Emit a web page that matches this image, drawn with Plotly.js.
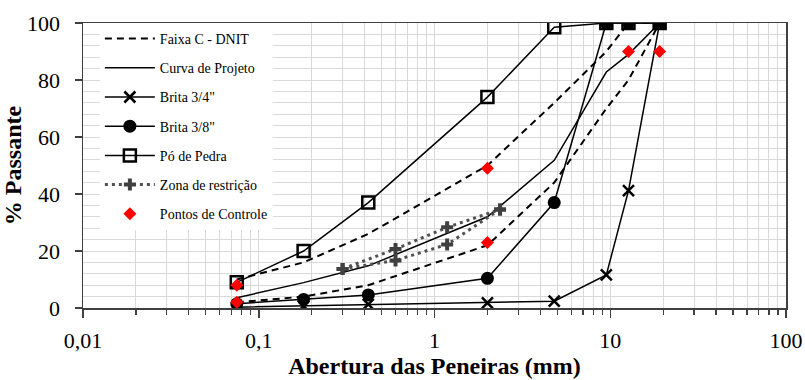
<!DOCTYPE html>
<html>
<head>
<meta charset="utf-8">
<script src="https://cdn.plot.ly/plotly-3.0.1.min.js"></script>
<style>html,body{margin:0;padding:0;background:#fff;}#chart{width:805px;height:380px;}</style>
</head>
<body>
<div id="chart"></div>
<script>
// Sieve openings (mm)
var sieves = [0.075, 0.18, 0.42, 2.0, 4.8, 9.5, 12.7, 19.1];
// Faixa C - DNIT envelope
var faixaUpper = [10, 16, 26, 50, 72, 90, 100, 100];
var faixaLower = [2, 4, 8, 22, 44, 70, 80, 100];
// Curva de Projeto
var curvaProjeto = [3.6, 8.9, 14.8, 32, 51.8, 82.8, 89, 100];
// Aggregates
var brita34 = [0.3, 0.7, 1.3, 1.8, 2.4, 11.6, 41.2, 100];
var brita38 = [1.5, 3.0, 4.6, 10.4, 37, 100, 100, 100];
var poPedra = [9, 20, 37, 74, 98.5, 100, 100, 100];
// Zona de restrição
var zonaSieves = [0.3, 0.6, 1.18, 2.36];
var zonaUpper = [13.7, 20.7, 28.3, 34.6];
var zonaLower = [13.7, 16.7, 22.3, 34.6];
// Pontos de Controle
var ctrlX = [0.075, 0.075, 2.0, 2.0, 12.7, 19.1];
var ctrlY = [2, 8, 23, 49, 90, 90];
// Axis labels
var xTickVals = [0.01, 0.1, 1, 10, 100];
var xTickText = ["0,01", "0,1", "1", "10", "100"];
var yTickVals = [0, 20, 40, 60, 80, 100];

var minorX = [];
[0.01, 0.1, 1, 10].forEach(function (d) {
  for (var k = 2; k <= 9; k++) minorX.push(+(d * k).toPrecision(3));
});

var serif = '"Liberation Serif", "Times New Roman", serif';

var traces = [
  {
    name: 'Faixa C - DNIT', legendrank: 1, legendgroup: 'a',
    x: sieves.concat([null], sieves), y: faixaUpper.concat([null], faixaLower),
    mode: 'lines', connectgaps: false,
    line: {color: '#000', width: 2, dash: '7px,5px'}
  },
  {
    name: 'Curva de Projeto', legendrank: 2, legendgroup: 'b',
    x: sieves, y: curvaProjeto, mode: 'lines',
    line: {color: '#000', width: 1.5}
  },
  {
    name: 'Brita 3/4"', legendrank: 3, legendgroup: 'c',
    x: sieves, y: brita34, mode: 'lines+markers',
    line: {color: '#000', width: 1.5},
    marker: {symbol: 'x-thin-open', size: 11, color: '#000', line: {color: '#000', width: 2.5}}
  },
  {
    name: 'Pó de Pedra', legendrank: 5, legendgroup: 'e',
    x: sieves, y: poPedra, mode: 'lines+markers',
    line: {color: '#000', width: 1.5},
    marker: {symbol: 'square-open', size: 12, color: '#000', line: {color: '#000', width: 2.5}}
  },
  {
    name: 'Brita 3/8"', legendrank: 4, legendgroup: 'd',
    x: sieves, y: brita38, mode: 'lines+markers',
    line: {color: '#000', width: 1.5},
    marker: {symbol: 'circle', size: 13, color: '#000'}
  },
  {
    name: 'Zona de restrição', legendrank: 6, legendgroup: 'f',
    x: zonaSieves.concat([null], zonaSieves), y: zonaUpper.concat([null], zonaLower),
    mode: 'lines+markers', connectgaps: false,
    line: {color: '#505050', width: 3, dash: '3px,4px'},
    marker: {symbol: 'cross', size: 10, color: '#404040'}
  },
  {
    name: 'Pontos de Controle', legendrank: 7, legendgroup: 'g',
    x: ctrlX, y: ctrlY, mode: 'markers',
    marker: {symbol: 'diamond', size: 10, color: '#ff0000'}
  }
];

var layout = {
  width: 805, height: 380,
  margin: {l: 83, r: 19, t: 23, b: 72},
  paper_bgcolor: '#fff', plot_bgcolor: '#fff',
  font: {family: serif, color: '#000', size: 14},
  showlegend: true,
  legend: {
    x: 0.024, y: 1.0, xanchor: 'left', yanchor: 'top',
    bgcolor: '#fff', borderwidth: 0,
    font: {family: serif, size: 14, color: '#000'},
    tracegroupgap: 8, itemwidth: 50, traceorder: 'grouped'
  },
  xaxis: {
    type: 'log', range: [-2, 2],
    tickmode: 'array', tickvals: xTickVals, ticktext: xTickText,
    ticks: 'outside', ticklen: 8, tickwidth: 1.5, tickcolor: '#404040',
    ticklabelstandoff: 4,
    tickfont: {family: serif, size: 22, color: '#000'},
    showgrid: true, gridcolor: '#d9d9d9', gridwidth: 1,
    minor: {tickmode: 'array', tickvals: minorX, ticks: 'outside', ticklen: 5, tickwidth: 1.2, tickcolor: '#404040', showgrid: true, gridcolor: '#d9d9d9', gridwidth: 1},
    showline: true, linecolor: '#404040', linewidth: 1.5, mirror: true,
    zeroline: false,
    title: {text: '<b>Abertura das Peneiras (mm)</b>', font: {family: serif, size: 24, color: '#000'}, standoff: 2}
  },
  yaxis: {
    range: [0, 100],
    tickmode: 'array', tickvals: yTickVals,
    ticks: 'outside', ticklen: 7, tickwidth: 1.5, tickcolor: '#404040',
    ticklabelstandoff: 10,
    tickfont: {family: serif, size: 22, color: '#000'},
    showgrid: true, gridcolor: '#d9d9d9', gridwidth: 1,
    minor: {dtick: 4, tick0: 0, ticks: '', showgrid: true, gridcolor: '#d9d9d9', gridwidth: 1},
    showline: true, linecolor: '#404040', linewidth: 1.5, mirror: true,
    zeroline: false,
    title: {text: '<b>% Passante</b>', font: {family: serif, size: 24, color: '#000'}, standoff: 6}
  }
};

Plotly.newPlot('chart', traces, layout, {displayModeBar: false, staticPlot: true});
</script>
</body>
</html>
